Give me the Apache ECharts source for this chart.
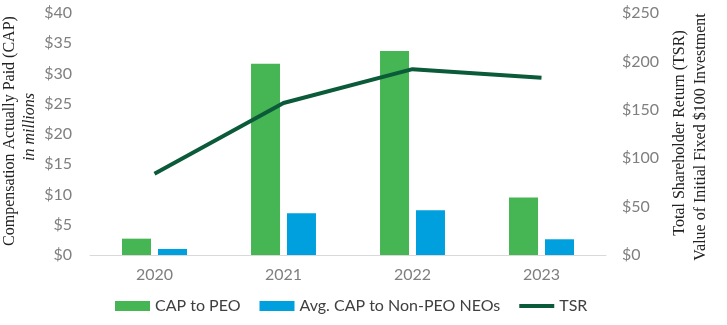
<!DOCTYPE html>
<html><head><meta charset="utf-8">
<script src="https://cdn.jsdelivr.net/npm/echarts@6/dist/echarts.min.js"></script>
<style>html,body{margin:0;padding:0;background:#fff}#c{width:727px;height:325px}</style>
</head><body><div id="c"></div>
<script>
const years = ['2020', '2021', '2022', '2023'];
const capPEO = [2.7, 31.6, 33.7, 9.5];
const capNEO = [1.0, 6.9, 7.4, 2.6];
const tsr = [84, 157, 192, 183];
const leftTicks = [0, 5, 10, 15, 20, 25, 30, 35, 40];
const rightTicks = [0, 50, 100, 150, 200, 250];

const chart = echarts.init(document.getElementById('c'), null, {renderer: 'canvas'});
const lblFont = {color: '#7f7f7f', fontSize: 16, fontFamily: 'Lato'};
chart.setOption({
  animation: false,
  grid: {left: 90, right: 121, top: 13, bottom: 70},
  legend: {
    bottom: 6, left: 110, itemWidth: 35, itemHeight: 10, itemGap: 19,
    textStyle: {color: '#404040', fontSize: 16, fontFamily: 'Lato'},
    data: [
      {name: 'CAP to PEO', icon: 'rect'},
      {name: 'Avg. CAP to Non-PEO NEOs', icon: 'rect'},
      {name: 'TSR', icon: 'path://M0,0 L35,0 L35,4 L0,4 Z'}
    ]
  },
  xAxis: {
    type: 'category', data: years,
    axisLine: {lineStyle: {color: '#d9d9d9', width: 1}},
    axisTick: {show: false},
    axisLabel: Object.assign({margin: 12}, lblFont)
  },
  yAxis: [{
    type: 'value', min: leftTicks[0], max: leftTicks[leftTicks.length - 1], interval: 5,
    splitLine: {show: false}, axisLine: {show: false}, axisTick: {show: false},
    axisLabel: Object.assign({margin: 18, formatter: v => '$' + v}, lblFont)
  }, {
    type: 'value', min: rightTicks[0], max: rightTicks[rightTicks.length - 1], interval: 50,
    splitLine: {show: false}, axisLine: {show: false}, axisTick: {show: false},
    axisLabel: Object.assign({margin: 16, formatter: v => '$' + v}, lblFont)
  }],
  series: [{
    name: 'CAP to PEO', type: 'bar', data: capPEO, barWidth: 29, barGap: '24%',
    itemStyle: {color: '#45b653'}
  }, {
    name: 'Avg. CAP to Non-PEO NEOs', type: 'bar', data: capNEO, barWidth: 29,
    itemStyle: {color: '#00a0de'}
  }, {
    name: 'TSR', type: 'line', yAxisIndex: 1, data: tsr, symbol: 'none',
    lineStyle: {color: '#0b5a3a', width: 4}, itemStyle: {color: '#0b5a3a'}
  }],
  graphic: [
    {type: 'text', x: 10, y: 131, rotation: Math.PI / 2,
     style: {text: 'Compensation Actually Paid (CAP)', font: '16px "Liberation Serif"', fill: '#222', align: 'center', verticalAlign: 'middle'}},
    {type: 'text', x: 30, y: 127, rotation: Math.PI / 2,
     style: {text: 'in millions', font: 'italic 16px "Liberation Serif"', fill: '#222', align: 'center', verticalAlign: 'middle'}},
    {type: 'text', x: 680, y: 133, rotation: Math.PI / 2,
     style: {text: 'Total Shareholder Return (TSR)', font: '16px "Liberation Serif"', fill: '#222', align: 'center', verticalAlign: 'middle'}},
    {type: 'text', x: 701, y: 137, rotation: Math.PI / 2,
     style: {text: 'Value of Initial Fixed $100 Investment', font: '16px "Liberation Serif"', fill: '#222', align: 'center', verticalAlign: 'middle'}}
  ]
});
</script></body></html>
